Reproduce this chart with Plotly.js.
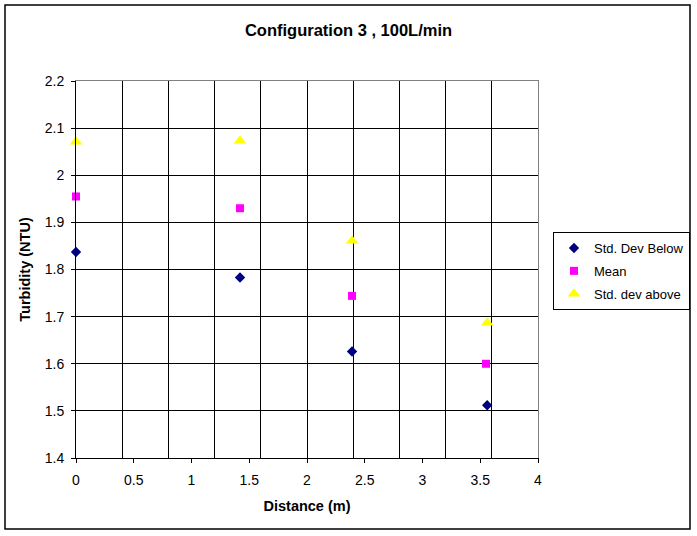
<!DOCTYPE html>
<html>
<head>
<meta charset="utf-8">
<script src="https://cdn.plot.ly/plotly-3.0.1.min.js"></script>
<style>html,body{margin:0;padding:0;background:#fff;}#chart{width:697px;height:536px;}</style>
</head>
<body>
<div id="chart"></div>
<script>
var chartTitle = "Configuration 3 , 100L/min";
var xTitle = "Distance (m)";
var yTitle = "Turbidity (NTU)";
var seriesNames = ["Std. Dev Below", "Mean", "Std. dev above"];

var distBelow = [0, 1.42, 2.39, 3.56];
var stdBelow  = [1.837, 1.783, 1.626, 1.512];

var distMean  = [0, 1.42, 2.39, 3.55];
var meanVals  = [1.955, 1.930, 1.744, 1.600];

var distAbove = [0, 1.42, 2.39, 3.56];
var stdAbove  = [2.071, 2.073, 1.861, 1.687];

var xRange = [0, 4];
var yRange = [1.4, 2.2];

var font = "Liberation Sans, Arial, sans-serif";

var traces = [
  {x: distBelow, y: stdBelow, name: seriesNames[0], legendgroup: "a", type: "scatter", mode: "markers",
   marker: {symbol: "diamond", size: 8, color: "#000080"}, cliponaxis: false},
  {x: distMean, y: meanVals, name: seriesNames[1], legendgroup: "b", type: "scatter", mode: "markers",
   marker: {symbol: "square", size: 8, color: "#FF00FF"}, cliponaxis: false},
  {x: distAbove, y: stdAbove, name: seriesNames[2], legendgroup: "c", type: "scatter", mode: "markers",
   marker: {symbol: "triangle-up", size: 11, color: "#FFFF00"}, cliponaxis: false},
  {x: [], y: [], xaxis: "x2", yaxis: "y2", showlegend: false, hoverinfo: "skip", type: "scatter", mode: "markers"}
];

var layout = {
  width: 697, height: 536,
  margin: {l: 76, r: 159, t: 81, b: 78, autoexpand: false},
  paper_bgcolor: "#fff", plot_bgcolor: "#fff",
  font: {family: font, size: 14, color: "#000"},
  showlegend: true,
  title: {text: chartTitle, font: {family: font, size: 16.5, color: "#000", weight: "bold"},
          xref: "container", x: 0.5, xanchor: "center", yref: "container", y: 1 - 30/536, yanchor: "middle"},
  xaxis: {range: xRange, dtick: 0.5, tick0: 0, showgrid: false, zeroline: false,
          showline: true, linecolor: "#000", linewidth: 1, ticks: "outside", ticklen: 4, tickcolor: "#000",
          ticklabelstandoff: 5,
          tickfont: {family: font, size: 14, color: "#000"},
          title: {text: xTitle, font: {family: font, size: 14.5, weight: "bold"}, standoff: 14}},
  xaxis2: {range: xRange, dtick: 0.4, tick0: 0, overlaying: "x", side: "top", showgrid: true,
           gridcolor: "#000", gridwidth: 1, zeroline: false, showline: true, linecolor: "#808080",
           showticklabels: false, ticks: ""},
  yaxis: {range: yRange, dtick: 0.1, tick0: 1.4, showgrid: true, gridcolor: "#000", gridwidth: 1, zeroline: false,
          showline: true, linecolor: "#000", linewidth: 1, ticks: "outside", ticklen: 4, tickcolor: "#000",
          ticklabelstandoff: 4,
          tickfont: {family: font, size: 14, color: "#000"},
          title: {text: yTitle, font: {family: font, size: 14.5, weight: "bold"}, standoff: 10}},
  yaxis2: {range: yRange, overlaying: "y", side: "right", showgrid: false, zeroline: false,
           showline: true, linecolor: "#808080", showticklabels: false, ticks: ""},
  legend: {x: (553-76)/462, xanchor: "left", y: (458-232)/377, yanchor: "top",
           bgcolor: "#fff", bordercolor: "#000", borderwidth: 1, itemwidth: 30,
           font: {family: font, size: 13, color: "#000"}, tracegroupgap: 3},
  shapes: [{type: "rect", xref: "paper", yref: "paper", x0: (5-76)/462, x1: (690-76)/462,
            y0: (458-529)/377, y1: (458-5)/377, line: {color: "#000", width: 1.5}, fillcolor: "rgba(0,0,0,0)", layer: "below"}]
};

Plotly.newPlot("chart", traces, layout, {displayModeBar: false, staticPlot: true});
</script>
</body>
</html>
